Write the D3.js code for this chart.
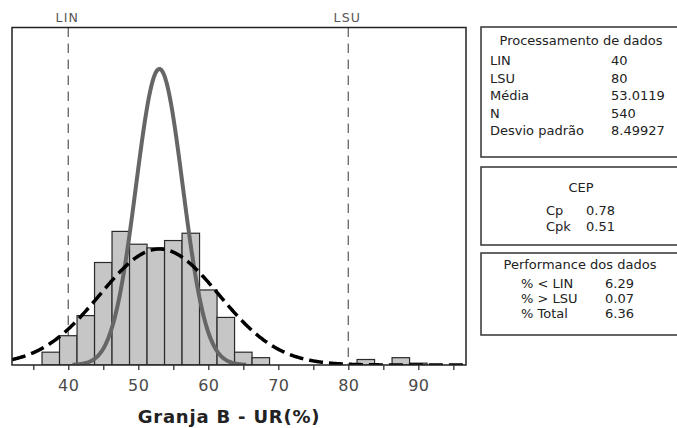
<!DOCTYPE html>
<html><head><meta charset="utf-8">
<script src="https://cdn.jsdelivr.net/npm/d3@7"></script>
<style>body{margin:0;background:#fff}svg{display:block}text{font-family:"DejaVu Sans",Verdana,sans-serif}</style>
</head><body>
<svg id="c" width="677" height="428"></svg>
<script>
// ---- data ----
const binCenters = [37.5, 40, 42.5, 45, 47.5, 50, 52.5, 55, 57.5, 60, 62.5, 65, 67.5, 70, 72.5, 75, 77.5, 80, 82.5, 85, 87.5, 90];
const binCounts  = [7, 16, 27, 56, 73, 66, 64, 68, 72, 41, 26, 7, 4, 0, 0, 0, 0, 0, 3, 0, 4, 1];
const binWidth = 2.5;
const specLimits = [{label: "LIN", value: 40}, {label: "LSU", value: 80}];
const xTickValues = [35, 40, 45, 50, 55, 60, 65, 70, 75, 80, 85, 90, 95];
const xTickLabels = [40, 50, 60, 70, 80, 90];
const meanValue = 53.0119, nValue = 540, sdOverall = 8.49927;
const sdWithin = 3.33;          // estimated from the narrow solid curve
const withinRange = [40.6, 65.4];
const xDomain = [31.96, 96.81];
const yMax = 184.4;
const xTitle = "Granja B - UR(%)";
const panel1Title = "Processamento de dados";
const panel1Labels = ["LIN", "LSU", "Média", "N", "Desvio padrão"];
const panel1Values = ["40", "80", "53.0119", "540", "8.49927"];
const panel2Title = "CEP";
const panel2Labels = ["Cp", "Cpk"];
const panel2Values = ["0.78", "0.51"];
const panel3Title = "Performance dos dados";
const panel3Labels = ["% < LIN", "% > LSU", "% Total"];
const panel3Values = ["6.29", "0.07", "6.36"];

// ---- drawing ----
const svg = d3.select("#c");
const L = 12, R = 466, T = 27.5, B = 365;
const x = d3.scaleLinear().domain(xDomain).range([L, R]);
const y = d3.scaleLinear().domain([0, yMax]).range([B, T]);

svg.append("defs").append("clipPath").attr("id", "clip")
  .append("rect").attr("x", L).attr("y", T).attr("width", R - L).attr("height", B - T);

const plot = svg.append("g").attr("clip-path", "url(#clip)");

// spec lines (behind bars)
plot.selectAll("line.spec").data(specLimits).join("line")
  .attr("class", "spec")
  .attr("x1", d => x(d.value)).attr("x2", d => x(d.value))
  .attr("y1", T).attr("y2", B)
  .attr("stroke", "#6e6e6e").attr("stroke-width", 1.4)
  .attr("stroke-dasharray", "9.5,6.5");

// bars
const bins = binCenters.map((c, i) => ({c, n: binCounts[i]})).filter(d => d.n > 0);
plot.selectAll("rect.bar").data(bins).join("rect")
  .attr("class", "bar")
  .attr("x", d => x(d.c - binWidth / 2))
  .attr("width", d => x(d.c + binWidth / 2) - x(d.c - binWidth / 2))
  .attr("y", d => y(d.n))
  .attr("height", d => y(0) - y(d.n))
  .attr("fill", "#c6c6c6").attr("stroke", "#2a2a2a").attr("stroke-width", 1.2);

// fitted normal curves
const dens = (v, m, s) => nValue * binWidth * Math.exp(-0.5 * ((v - m) / s) ** 2) / (s * Math.sqrt(2 * Math.PI));
const line = d3.line().x(d => x(d[0])).y(d => y(d[1])).curve(d3.curveLinear);

const wPts = d3.range(withinRange[0], withinRange[1] + 0.001, 0.1).map(v => [v, dens(v, meanValue, sdWithin)]);
plot.append("path").attr("d", line(wPts))
  .attr("fill", "none").attr("stroke", "#666").attr("stroke-width", 4).attr("stroke-linejoin", "round");

const oPts = d3.range(xDomain[0], xDomain[1] + 0.001, 0.1).map(v => [v, dens(v, meanValue, sdOverall)]);
plot.append("path").attr("d", line(oPts))
  .attr("fill", "none").attr("stroke", "#000").attr("stroke-width", 3.5)
  .attr("stroke-dasharray", "14,6");

// frame
svg.append("rect").attr("x", L).attr("y", T).attr("width", R - L).attr("height", B - T)
  .attr("fill", "none").attr("stroke", "#222").attr("stroke-width", 1.5);

// x axis ticks
const axis = d3.axisBottom(x).tickValues(xTickValues).tickSize(5).tickPadding(10)
  .tickFormat(d => xTickLabels.includes(d) ? d : "");
const ax = svg.append("g").attr("transform", `translate(0,${B})`).call(axis);
ax.select(".domain").remove();
ax.selectAll(".tick line").attr("stroke", "#333").attr("stroke-width", 1.3);
ax.selectAll(".tick text").attr("font-size", 16).attr("fill", "#4a4a4a")
  .attr("font-family", "DejaVu Sans").attr("letter-spacing", 0.5);

// spec labels
svg.selectAll("text.spec").data(specLimits).join("text")
  .attr("x", d => x(d.value) - 1).attr("y", 21.5)
  .attr("text-anchor", "middle").attr("font-size", 12.5).attr("letter-spacing", 1.2)
  .attr("fill", "#555")
  .text(d => d.label);

// x title
svg.append("text").attr("x", 229).attr("y", 423).attr("text-anchor", "middle")
  .attr("font-size", 18).attr("font-weight", "bold").attr("letter-spacing", 0.8)
  .attr("fill", "#222").text(xTitle);

// panels
const PX = 481, PW = 198;
function box(y0, y1) {
  svg.append("rect").attr("x", PX).attr("y", y0).attr("width", PW).attr("height", y1 - y0)
    .attr("fill", "#fff").attr("stroke", "#333").attr("stroke-width", 1.5);
}
function txt(xx, yy, s, anchor) {
  svg.append("text").attr("x", xx).attr("y", yy).attr("text-anchor", anchor || "start")
    .attr("font-size", 13).attr("fill", "#222").text(s);
}
box(27, 157);
txt(581, 44.5, panel1Title, "middle");
panel1Labels.forEach((s, i) => { txt(490, 65 + i * 17.5, s); txt(611, 65 + i * 17.5, panel1Values[i]); });

box(167, 245);
txt(581, 191.5, panel2Title, "middle");
panel2Labels.forEach((s, i) => { txt(546, 214.5 + i * 16.5, s); txt(586, 214.5 + i * 16.5, panel2Values[i]); });

box(253, 335);
txt(580, 269, panel3Title, "middle");
panel3Labels.forEach((s, i) => { txt(521, 288 + i * 15, s); txt(605, 288 + i * 15, panel3Values[i]); });
</script>
</body></html>
